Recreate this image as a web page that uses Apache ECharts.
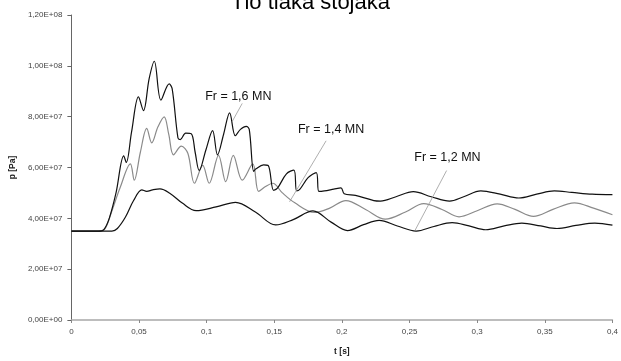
<!DOCTYPE html>
<html><head><meta charset="utf-8">
<script src="https://cdn.jsdelivr.net/npm/echarts@6/dist/echarts.min.js"></script>
<style>html,body{margin:0;padding:0;background:#fff}#c{width:621px;height:361px}</style>
</head><body><div id="c"></div>
<script>
const chartTitle = 'Tlo tlaka stojaka';
const xAxisName = 't [s]';
const yAxisName = 'p [Pa]';
const xTickLabels = ['0','0,05','0,1','0,15','0,2','0,25','0,3','0,35','0,4'];
const yTickLabels = ['0,00E+00','2,00E+07','4,00E+07','6,00E+07','8,00E+07','1,00E+08','1,20E+08'];
const seriesNames = ['Fr = 1,6 MN','Fr = 1,4 MN','Fr = 1,2 MN'];

const fr16 = [[0,3.5e7],[0.02,3.5e7],[0.024,3.56e7],[0.028,4.0e7],[0.033,5.0e7],[0.0387,6.46e7],[0.0406,6.2e7],[0.0445,7.4e7],[0.0496,8.78e7],[0.0533,8.24e7],[0.0575,9.5e7],[0.0613,1.018e8],[0.0662,8.65e7],[0.0723,9.29e7],[0.0745,9.1e7],[0.0788,7.16e7],[0.0805,7.1e7],[0.0845,7.35e7],[0.0886,7.33e7],[0.0915,6.6e7],[0.0945,5.88e7],[0.0995,6.7e7],[0.1044,7.45e7],[0.108,6.5e7],[0.1125,7.3e7],[0.117,8.15e7],[0.1212,7.25e7],[0.125,7.5e7],[0.1293,7.62e7],[0.1315,7.5e7],[0.1348,5.85e7],[0.1365,5.95e7],[0.1421,6.1e7],[0.1455,6.08e7],[0.1495,5.1e7],[0.1525,5.2e7],[0.159,5.75e7],[0.1645,5.9e7],[0.1665,5.08e7],[0.169,5.15e7],[0.175,5.6e7],[0.181,5.8e7],[0.183,5.06e7],[0.187,5.08e7],[0.194,5.15e7],[0.1993,5.2e7],[0.2017,4.97e7],[0.21,4.9e7],[0.2236,4.7e7],[0.2285,4.68e7],[0.24,4.85e7],[0.2528,5.05e7],[0.266,4.85e7],[0.2796,4.68e7],[0.29,4.85e7],[0.3027,5.08e7],[0.317,4.95e7],[0.3307,4.8e7],[0.344,4.95e7],[0.357,5.08e7],[0.37,5.02e7],[0.385,4.95e7],[0.4,4.93e7]];
const fr14 = [[0,3.5e7],[0.021,3.5e7],[0.025,3.6e7],[0.03,4.3e7],[0.036,5.2e7],[0.0436,6.14e7],[0.0465,5.5e7],[0.051,6.6e7],[0.0557,7.54e7],[0.0594,6.97e7],[0.064,7.6e7],[0.0686,7.99e7],[0.072,7.3e7],[0.0755,6.5e7],[0.0813,6.84e7],[0.0861,6.56e7],[0.091,5.38e7],[0.0971,6.08e7],[0.1019,5.38e7],[0.1088,6.48e7],[0.1141,5.44e7],[0.1197,6.48e7],[0.1263,5.5e7],[0.1341,6.14e7],[0.1384,5.06e7],[0.1435,5.25e7],[0.1488,5.38e7],[0.156,5.0e7],[0.1652,4.61e7],[0.1798,4.23e7],[0.191,4.4e7],[0.2029,4.7e7],[0.2175,4.35e7],[0.2321,3.97e7],[0.247,4.25e7],[0.2605,4.58e7],[0.274,4.35e7],[0.2866,4.06e7],[0.3,4.3e7],[0.3148,4.57e7],[0.328,4.35e7],[0.3416,4.08e7],[0.356,4.35e7],[0.3719,4.61e7],[0.386,4.4e7],[0.4,4.14e7]];
const fr12 = [[0,3.5e7],[0.03,3.5e7],[0.034,3.6e7],[0.04,4.05e7],[0.046,4.7e7],[0.0521,5.12e7],[0.0557,5.06e7],[0.06,5.12e7],[0.0655,5.16e7],[0.0727,4.99e7],[0.082,4.6e7],[0.0922,4.3e7],[0.107,4.45e7],[0.1214,4.63e7],[0.136,4.25e7],[0.151,3.74e7],[0.164,3.95e7],[0.1786,4.29e7],[0.192,3.85e7],[0.2041,3.52e7],[0.216,3.75e7],[0.2275,3.92e7],[0.241,3.7e7],[0.2549,3.5e7],[0.268,3.68e7],[0.2815,3.83e7],[0.294,3.7e7],[0.3063,3.55e7],[0.32,3.7e7],[0.333,3.81e7],[0.347,3.7e7],[0.359,3.6e7],[0.373,3.72e7],[0.387,3.81e7],[0.4,3.73e7]];

// annotation text anchor and leader line ends, in data units
const labelAt = [[0.1234,8.79e7],[0.192,7.51e7],[0.278,6.39e7]];
const leaderFrom = [[0.1263,8.52e7],[0.1883,7.05e7],[0.2774,5.88e7]];
const leaderTo = [[0.119,7.82e7],[0.1613,4.65e7],[0.254,3.52e7]];

const FONT = 'Liberation Sans, Arial, sans-serif';
const seriesData = [fr16, fr14, fr12];
const colors = ['#111111','#8a8a8a','#111111'];

const chart = echarts.init(document.getElementById('c'), null, {renderer:'canvas'});
const series = seriesData.map((d, i) => ({
  name: seriesNames[i], type: 'line', data: d, showSymbol: false, symbol: 'none',
  smooth: 0.35, animation: false, z: i === 1 ? 3 : 4,
  lineStyle: {color: colors[i], width: 1.2},
  markLine: {
    silent: true, symbol: ['none','none'], animation: false,
    lineStyle: {color: '#9a9a9a', width: 0.8, type: 'solid'},
    label: {show: false},
    data: [[{coord: leaderFrom[i]}, {coord: leaderTo[i]}]]
  },
  markPoint: {
    silent: true, symbol: 'circle', symbolSize: 0, animation: false,
    label: {show: true, position: 'inside', formatter: seriesNames[i], color: '#111', fontSize: 12.5, fontFamily: FONT},
    data: [{coord: labelAt[i]}]
  }
}));

chart.setOption({
  backgroundColor: '#ffffff',
  animation: false,
  title: {text: chartTitle, left: 'center', top: -13, textStyle: {fontFamily: FONT, fontSize: 22, fontWeight: 'normal', color: '#000'}},
  grid: {left: 67, right: 6, top: 15, bottom: 36, containLabel: false},
  xAxis: {
    type: 'value', min: 0, max: 0.4, interval: 0.05,
    name: xAxisName, nameLocation: 'middle', nameGap: 27,
    nameTextStyle: {fontFamily: FONT, fontSize: 8.5, fontWeight: 'bold', color: '#222'},
    axisLine: {show: true, lineStyle: {color: '#a8a8a8', width: 1.5}},
    axisTick: {show: true, length: 3, lineStyle: {color: '#888'}},
    axisLabel: {fontFamily: FONT, fontSize: 8, color: '#444', margin: 8,
      formatter: v => xTickLabels[Math.round(v / 0.05)]},
    splitLine: {show: false}
  },
  yAxis: {
    type: 'value', min: 0, max: 1.2e8, interval: 2e7,
    name: yAxisName, nameLocation: 'middle', nameGap: 50, nameRotate: 90,
    nameTextStyle: {fontFamily: FONT, fontSize: 8.5, fontWeight: 'bold', color: '#222'},
    axisLine: {show: true, lineStyle: {color: '#666', width: 1}},
    axisTick: {show: true, length: 4, lineStyle: {color: '#666'}},
    axisLabel: {fontFamily: FONT, fontSize: 8, color: '#444', margin: 9,
      formatter: v => yTickLabels[Math.round(v / 2e7)]},
    splitLine: {show: false}
  },
  series: series
});
</script></body></html>
